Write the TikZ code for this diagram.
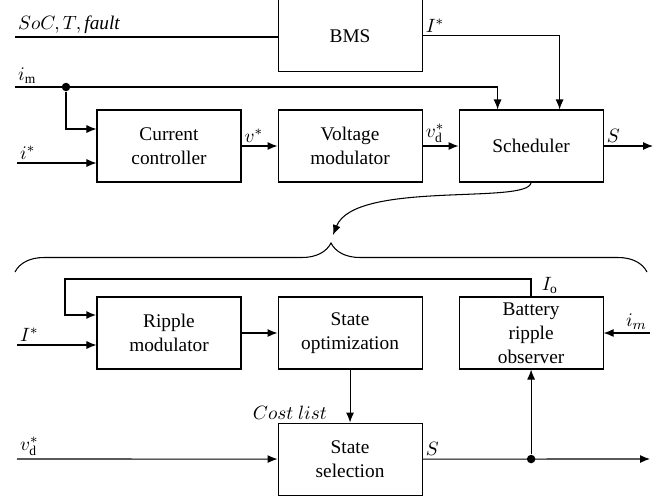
\documentclass[tikz,border=0pt]{standalone}
\usepackage{fontspec}
\setmainfont{Liberation Serif}
\usetikzlibrary{positioning, arrows.meta, decorations.pathreplacing}

\begin{document}
\begin{tikzpicture}[
        x=0.2mm, y=-0.2mm, line width=0.6pt,
        font=\fontsize{11}{13.6}\selectfont,
        node distance = 7.4mm and 7.2mm,
        >={Latex[length=2mm,width=1.6mm]},
        box/.style = {rectangle, draw, fill=#1, align=center, inner sep=1pt,
                    minimum width=28.8mm, minimum height=14.4mm},
        dot/.style = {circle, fill, inner sep=0pt, minimum size=1.7mm},
        lbl/.style = {inner sep=1.5pt}
                    ]
        \useasboundingbox (0,0) rectangle (667,498);
        \node (cc) [box=white] at (169,146) {Current\\controller};
        \node (vm) [box=white, right=of cc] {Voltage\\modulator};
        \node (sch) [box=white, right=of vm] {Scheduler};
        \node (bms) [box=white, above=of vm] {BMS};
        \node (rm) [box=white] at (169,333) {Ripple\\modulator};
        \node (so) [box=white, right=of rm] {State\\optimization};
        \node (bro) [box=white, right=of so] {Battery\\ripple\\observer};
        \node (ss) [box=white, below=10.6mm of so] {State\\selection};
        %
        \coordinate (soc) at (15,37);
        \coordinate (im) at (15,87);
        \coordinate (iref) at (17,163);
        \coordinate (sout) at (653,146);
        \coordinate (Iref) at (17,345);
        \coordinate (vd) at (17,459);
        \coordinate (imb) at (650,333);
        \coordinate (sbout) at (650,459);
        \node (j1) [dot] at (66,87) {};
        \node (j2) [dot] at (bro.south |- ss.east) {};
        %
        \draw (soc) -- (soc -| bms.west) node[lbl, above right, pos=0] {$SoC, T, \mathit{fault}$};
        \draw[->] (im) -| ([xshift=-6.7mm]sch.north);
        \node[lbl, above right] at (im) {$i_{\mathrm{m}}$};
        \draw[->] (j1) |- ([yshift=3.4mm]cc.west);
        \draw[->] (iref) -- (iref -| cc.west) node[lbl, above right, pos=0] {$i^*$};
        \draw[->] (cc) -- (vm) node[lbl, above right, pos=0] {$v^*$};
        \draw[->] (vm) -- (sch) node[lbl, above right, pos=0] {$v^*_{\mathrm{d}}$};
        \draw[->] (sch) -- (sout) node[lbl, above right, pos=0] {$S$};
        \draw[->] (bms.east) -| ([xshift=5.7mm]sch.north) node[lbl, above right, pos=0] {$I^*$};
        %
        \draw[->] (sch.south) .. controls (529,205) and (355,180) .. (333,235);
        \draw[decorate, decoration={brace, amplitude=5.8mm}] (15,272) -- (647,272);
        %
        \draw[->, line width=1.2pt] (bro.north) |- (65,279) |- ([yshift=3.6mm]rm.west);
        \node[lbl, above right, xshift=1.5mm] at (bro.north) {$I_{\mathrm{o}}$};
        \draw[->] (Iref) -- (Iref -| rm.west) node[lbl, above right, pos=0] {$I^*$};
        \draw[->] (rm) -- (so);
        \draw[->] (so) -- (ss);
        \node[lbl, above left] at ([xshift=-4mm]ss.north) {$Cost\ list$};
        \draw[->] (vd) -- (ss) node[lbl, above right, pos=0] {$v^*_{\mathrm{d}}$};
        \draw[->] (ss) -- (sbout) node[lbl, above right, pos=0] {$S$};
        \draw[->] (j2) -- (bro.south);
        \draw[->] (imb) -- (bro.east) node[lbl, above left, pos=0] {$i_m$};
\end{tikzpicture}
\end{document}
